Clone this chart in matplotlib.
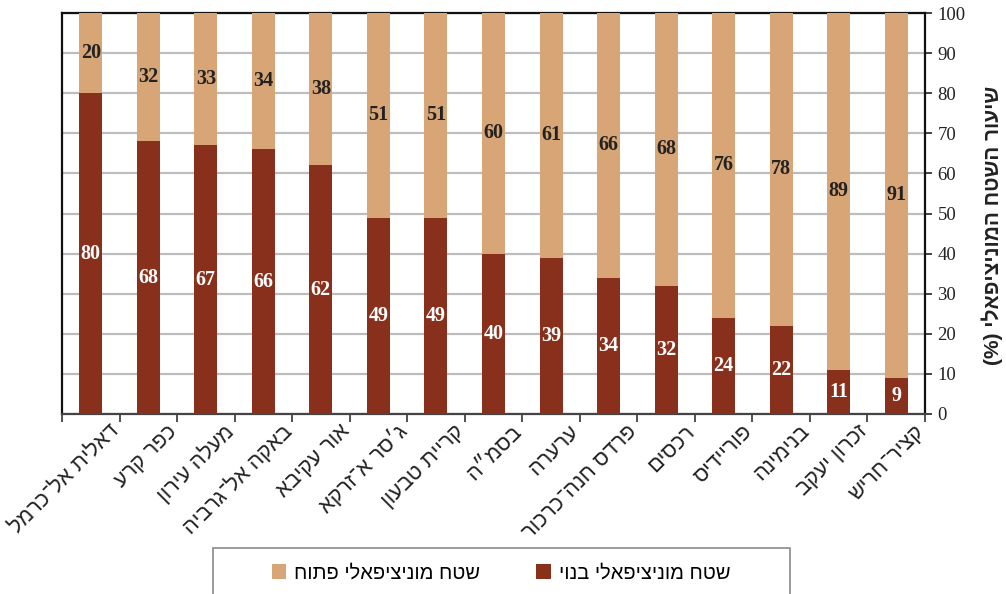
import numpy as np
import matplotlib.pyplot as plt
import matplotlib.transforms as mtransforms
from matplotlib.patches import Patch, Rectangle

# יישובים ושיעורי שטח מוניציפאלי
yeshuvim = ['דאלית אל־כרמל', 'כפר קרע', 'מעלה עירון', 'באקה אל־גרביה', 'אור עקיבא',
            'ג׳סר א־זרקא', 'קריית טבעון', 'בסמ״ה', 'ערערה', 'פרדס חנה־כרכור',
            'רכסים', 'פוריידיס', 'בנימינה', 'זכרון יעקב', 'קציר־חריש']
banui = [80, 68, 67, 66, 62, 49, 49, 40, 39, 34, 32, 24, 22, 11, 9]
patuach = [20, 32, 33, 34, 38, 51, 51, 60, 61, 66, 68, 76, 78, 89, 91]

ytitle = 'שיעור השטח המוניציפאלי (%)'
leg_banui = 'שטח מוניציפאלי בנוי'
leg_patuach = 'שטח מוניציפאלי פתוח'

C_BANUI = '#89301c'
C_PATUACH = '#d7a576'

HEB = ['Liberation Sans', 'DejaVu Sans']
SERIF = ['Liberation Serif', 'DejaVu Serif']


def rtl(s):
    # matplotlib lays text out left to right, so flip Hebrew and mirror brackets
    s = s[::-1]
    return s.translate(str.maketrans('()', ')('))


fig = plt.figure(figsize=(10.06, 5.94), dpi=100)
ax = fig.add_axes([62 / 1006, 1 - 414 / 594, (925 - 62) / 1006, (414 - 13) / 594])

x = np.arange(len(yeshuvim))
w = 0.4
ax.bar(x, banui, w, color=C_BANUI, zorder=3)
ax.bar(x, patuach, w, bottom=banui, color=C_PATUACH, zorder=3)

for i in range(len(x)):
    ax.text(x[i], banui[i] / 2, str(banui[i]), ha='center', va='center',
            color='white', fontsize=14.5, fontweight='bold', family=SERIF, zorder=4)
    ax.text(x[i], banui[i] + patuach[i] / 2, str(patuach[i]), ha='center', va='center',
            color='#222222', fontsize=14.5, fontweight='bold', family=SERIF, zorder=4)

ax.set_xlim(-0.5, len(x) - 0.5)
ax.set_ylim(0, 100)

# ציר y מימין
ax.yaxis.tick_right()
ax.set_yticks(np.arange(0, 101, 10))
ax.tick_params(axis='y', length=5, width=1.2, color='#222222', pad=4)
for lbl in ax.get_yticklabels():
    lbl.set_family(SERIF)
    lbl.set_fontsize(13.5)
    lbl.set_color('#222222')
ax.yaxis.grid(True, color='#bdbdbd', linewidth=1.6, zorder=0)

ax.yaxis.set_label_position('right')
ax.set_ylabel(rtl(ytitle), family=HEB, fontsize=15, fontweight='bold',
              rotation=90, color='#222222')
ax.yaxis.set_label_coords(1.066, 0.471)

# ציר x: שנתות בין העמודות, תוויות מסובבות
ax.set_xticks(np.arange(-0.5, len(x), 1), minor=True)
ax.set_xticks(x)
ax.tick_params(axis='x', which='minor', length=6, width=1.2, color='#333333')
ax.tick_params(axis='x', which='major', length=0, pad=5)
ax.set_xticklabels([rtl(s) for s in yeshuvim], rotation=45, ha='right',
                   rotation_mode='anchor', family=HEB, fontsize=15.5, color='#222222')
off = mtransforms.ScaledTranslation(18 / 100, 0, fig.dpi_scale_trans)
for lbl in ax.get_xticklabels():
    lbl.set_transform(lbl.get_transform() + off)

for side in ['top', 'left', 'right']:
    ax.spines[side].set_color('#111111')
    ax.spines[side].set_linewidth(1.6)
ax.spines['bottom'].set_color('#444444')
ax.spines['bottom'].set_linewidth(1.6)

# מקרא בתחתית, במסגרת אפורה
fig.add_artist(Rectangle((213 / 1006, -0.05), 577 / 1006, 0.05 + 46 / 594,
                         transform=fig.transFigure, facecolor='white',
                         edgecolor='#8a8a8a', linewidth=1.2))
handles = [Patch(facecolor=C_PATUACH, label=rtl(leg_patuach)),
           Patch(facecolor=C_BANUI, label=rtl(leg_banui))]
leg = fig.legend(handles=handles, loc='center', bbox_to_anchor=(501 / 1006, 1 - 573 / 594),
                 ncol=2, frameon=False, prop={'family': HEB, 'size': 14.5},
                 handlelength=0.7, handleheight=0.7, handletextpad=0.4,
                 columnspacing=2.8, borderpad=0, borderaxespad=0)

fig.savefig('out.png', dpi=100)
